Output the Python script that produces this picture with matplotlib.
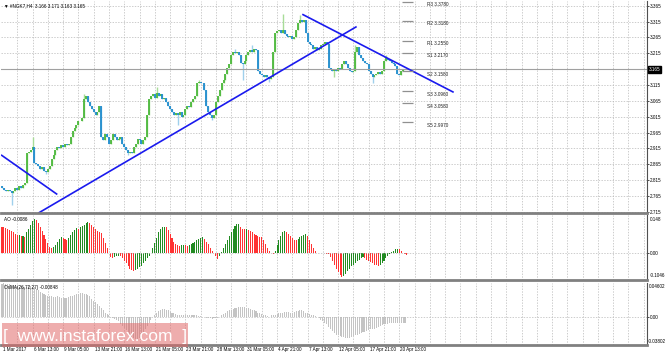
import numpy as np
import matplotlib.pyplot as plt
import matplotlib.transforms as mtransforms
from matplotlib.patches import Rectangle

plt.rcParams['font.family'] = ['Liberation Sans', 'DejaVu Sans']

#### data (H4 bars, index 0 = 1 Mar 2017) ####

closes = [2.790, 2.785, 2.780, 2.785, 2.780, 2.775, 2.780, 2.790, 2.785, 2.795, 2.790, 2.800, 2.805,
          2.900, 2.905, 2.910, 2.920,
          2.870, 2.865, 2.860, 2.850, 2.855, 2.845, 2.840, 2.850,
          2.860, 2.880, 2.895, 2.910, 2.920, 2.915, 2.925, 2.920, 2.930, 2.925,
          2.930, 2.950, 2.970, 2.980, 2.990, 3.000, 3.000, 3.010,
          3.070, 3.080, 3.060,
          3.050, 3.040, 3.030, 3.020, 3.030, 3.050,
          2.950,
          2.940, 2.960, 2.950, 2.930, 2.940, 2.960, 2.950, 2.940, 2.945, 2.950, 2.930,
          2.920, 2.910, 2.900, 2.905, 2.900,
          2.920, 2.930, 2.945, 2.940, 2.930, 2.940, 2.950,
          3.020, 3.070,
          3.080, 3.085, 3.075, 3.090, 3.080, 3.085, 3.070, 3.075, 3.060,
          3.050, 3.040, 3.030, 3.020, 3.025, 3.020, 3.030, 3.015, 3.020,
          3.040, 3.050, 3.045, 3.060, 3.070, 3.080,
          3.120, 3.125, 3.120, 3.120, 3.100,
          3.050, 3.030, 3.020, 3.010, 3.020,
          3.060, 3.080, 3.100, 3.120, 3.130, 3.150, 3.170, 3.180,
          3.210, 3.220, 3.215, 3.220, 3.210,
          3.185, 3.180, 3.190,
          3.210, 3.220, 3.225, 3.220, 3.230, 3.225,
          3.160, 3.150, 3.145,
          3.140, 3.145, 3.140, 3.135, 3.140,
          3.220, 3.280,
          3.285, 3.290, 3.280, 3.290, 3.275,
          3.270, 3.265, 3.270, 3.260, 3.265,
          3.290, 3.310, 3.320, 3.315, 3.320,
          3.280, 3.250, 3.245,
          3.240, 3.230, 3.235, 3.225, 3.230, 3.240, 3.245, 3.250, 3.245,
          3.170, 3.165,
          3.160, 3.165, 3.160, 3.170, 3.165,
          3.180, 3.190, 3.180, 3.170, 3.160,
          3.155, 3.160,
          3.220, 3.235,
          3.210, 3.200, 3.190, 3.185, 3.180,
          3.160, 3.150, 3.140, 3.145,
          3.150, 3.155, 3.150, 3.160,
          3.190, 3.200, 3.195,
          3.190, 3.185, 3.180, 3.175,
          3.150, 3.145,
          3.160, 3.165]

# notable wick extremes (bar index: price)
wick_high = {16: 2.950, 43: 3.085, 81: 3.110, 103: 3.130, 122: 3.230, 131: 3.240,
             147: 3.340, 156: 3.337, 185: 3.240, 201: 3.210}
wick_low = {5: 2.735, 23: 2.835, 66: 2.895, 92: 2.990, 110: 3.005, 126: 3.130,
            140: 3.125, 174: 3.140, 194: 3.120}

ao = [0.103, 0.100, 0.098, 0.095, 0.090, 0.085, 0.080, 0.075, 0.070, 0.072, 0.065, 0.068, 0.062,
      0.080, 0.095, 0.110, 0.125, 0.134,
      0.128, 0.115, 0.100, 0.085, 0.070, 0.055, 0.040, 0.025,
      0.020, 0.022, 0.030,
      0.045, 0.055, 0.064, 0.060, 0.055, 0.052, 0.060,
      0.070, 0.080, 0.088, 0.096, 0.095, 0.100,
      0.105, 0.110, 0.115, 0.120, 0.118,
      0.110, 0.100, 0.095, 0.085, 0.080, 0.077,
      0.060, 0.040, 0.020,
      0.000, -0.015, -0.020,
      -0.015, -0.012, -0.010, -0.012,
      -0.020, -0.030, -0.040, -0.050, -0.060, -0.065, -0.070,
      -0.065, -0.060, -0.055, -0.050, -0.040, -0.030, -0.020, -0.010, 0.000,
      0.020, 0.040, 0.060, 0.080, 0.095, 0.100, 0.103,
      0.100, 0.090, 0.075, 0.060, 0.045, 0.035,
      0.030, 0.028, 0.030, 0.032, 0.030, 0.028, 0.030,
      0.035, 0.040, 0.045, 0.050, 0.055, 0.060, 0.061, 0.055,
      0.045, 0.035, 0.020, 0.010, 0.000,
      -0.010, -0.022, -0.010,
      0.005, 0.020, 0.035, 0.050, 0.065, 0.080, 0.095, 0.105, 0.112, 0.114,
      0.100, 0.095, 0.092, 0.093, 0.090,
      0.085, 0.080, 0.075, 0.070, 0.066, 0.064, 0.062,
      0.050, 0.035, 0.020, 0.010, 0.000,
      -0.005,
      0.010, 0.030, 0.050, 0.065, 0.080, 0.087,
      0.082, 0.075, 0.065, 0.058, 0.052, 0.050,
      0.055, 0.062, 0.068, 0.072, 0.074,
      0.065, 0.050, 0.035, 0.020, 0.010, 0.002,
      0.001, 0.002, 0.001, 0.000, -0.002, -0.003,
      -0.015, -0.030, -0.045, -0.060, -0.075, -0.085, -0.092,
      -0.088, -0.080, -0.070, -0.060, -0.050, -0.045, -0.040, -0.030, -0.025, -0.018, -0.015,
      -0.020, -0.025, -0.030, -0.035, -0.040, -0.045, -0.048, -0.050, -0.048,
      -0.040, -0.030, -0.020, -0.010, -0.002, 0.005,
      0.010, 0.015, 0.017, 0.015,
      0.008, 0.002, -0.005, -0.0086]

osma = [0.0450, 0.0455, 0.0450, 0.0440, 0.0440, 0.0430, 0.0430, 0.0420,
        0.0420, 0.0410, 0.0420, 0.0410, 0.0400, 0.0410, 0.0420, 0.0420, 0.0410, 0.0400,
        0.0380, 0.0360, 0.0340, 0.0320, 0.0310, 0.0300, 0.0290, 0.0280,
        0.0280, 0.0270, 0.0270, 0.0280, 0.0270, 0.0260, 0.0260, 0.0260,
        0.0260, 0.0270, 0.0280, 0.0290, 0.0300,
        0.0310, 0.0310, 0.0320, 0.0320, 0.0310, 0.0310, 0.0300, 0.0280,
        0.0250, 0.0220, 0.0200, 0.0180, 0.0150,
        0.0120, 0.0090, 0.0060, 0.0040, 0.0020,
        0.0000, -0.0020, -0.0030, -0.0040, -0.0060,
        -0.0090, -0.0120, -0.0150, -0.0180, -0.0210, -0.0240, -0.0270, -0.0290, -0.0300, -0.0300, -0.0280,
        -0.0240, -0.0200, -0.0160, -0.0120, -0.0080, -0.0040, 0.0000,
        0.0030, 0.0060, 0.0080, 0.0100, 0.0110, 0.0110, 0.0100, 0.0090,
        0.0070, 0.0060, 0.0050, 0.0040, 0.0030, 0.0030, 0.0030, 0.0020,
        0.0020, 0.0020, 0.0030, 0.0030, 0.0020, 0.0020, 0.0020, 0.0010, 0.0010, 0.0000, 0.0000,
        -0.0010, -0.0020, -0.0020, -0.0030, -0.0020, -0.0020, -0.0010, 0.0000, 0.0020, 0.0040, 0.0060,
        0.0080, 0.0090, 0.0100, 0.0110, 0.0120, 0.0120, 0.0130, 0.0130,
        0.0130, 0.0130, 0.0120, 0.0120, 0.0110, 0.0100, 0.0090, 0.0080,
        0.0060, 0.0050, 0.0040, 0.0030, 0.0020, 0.0010, 0.0000,
        0.0020, 0.0030, 0.0030, 0.0040, 0.0050,
        0.0060, 0.0060, 0.0070, 0.0070, 0.0070, 0.0060, 0.0060, 0.0070, 0.0080, 0.0080, 0.0090, 0.0090, 0.0080,
        0.0060, 0.0050, 0.0040, 0.0030, 0.0020, 0.0010, 0.0000, -0.0020,
        -0.0040, -0.0060, -0.0080, -0.0100, -0.0130,
        -0.0160, -0.0190, -0.0220, -0.0240, -0.0250, -0.0260, -0.0270, -0.0270,
        -0.0280, -0.0280, -0.0280, -0.0270,
        -0.0260, -0.0250, -0.0240, -0.0230, -0.0220, -0.0210, -0.0200, -0.0190, -0.0180,
        -0.0170, -0.0160, -0.0160, -0.0150, -0.0140, -0.0120, -0.0110, -0.0100,
        -0.0090, -0.0090, -0.0080, -0.0080, -0.0080, -0.0080, -0.0080, -0.0080, -0.0085, -0.0085, -0.00848]

date_labels = ['1 Mar 2017', '6 Mar 13:00', '9 Mar 05:00', '13 Mar 21:00', '16 Mar 13:00',
               '21 Mar 05:00', '23 Mar 21:00', '28 Mar 13:00', '31 Mar 05:00', '4 Apr 21:00',
               '7 Apr 13:00', '12 Apr 05:00', '17 Apr 21:00', '20 Apr 13:00']
bars_per_label = 16

pivot_names = ['R3', 'R2', 'R1', 'S1', 'S2', 'S3', 'S4', 'S5']
pivot_levels = [3.3780, 3.3180, 3.2550, 3.2170, 3.1580, 3.0960, 3.0580, 2.9970]

# trend lines (bar index, price)
trend_lines = [([-0.15, 28.6], [2.893, 2.771]),
               ([19.4, 185.3], [2.712, 3.298]),
               ([157.6, 236.1], [3.337, 3.093])]

price_ticks = np.arange(2.715, 3.366, 0.05)
last_price = 3.165
title = '\u25bc #NGK7,H4  3.166 3.171 3.163 3.165'

#### figure layout ####

W, H = 665, 356
fig = plt.figure(figsize=(W/100, H/100), dpi=100)
fs = 3.3
xlim = (-0.52, 337.7)

def px_axes(top, bottom):
    return fig.add_axes([1/W, 1 - bottom/H, 646/W, (bottom - top)/H])

ax = px_axes(1, 213)
ax_ao = px_axes(215, 280)
ax_os = px_axes(283, 345)

grid_kw = dict(color='#b8b8b8', lw=0.5, ls=(0, (2, 2)))
for a in (ax, ax_ao, ax_os):
    a.set_xlim(*xlim)
    a.set_xticks(np.arange(8, 337, 8))
    a.set_xticklabels([])
    a.tick_params(axis='x', length=0)
    a.grid(axis='x', **grid_kw)
    a.yaxis.tick_right()
    a.tick_params(axis='y', labelsize=fs, length=1.5, width=0.5, pad=0.8, colors='black')
    a.spines['left'].set_visible(False)
    a.spines['top'].set_visible(False)
    a.spines['right'].set_color('#505050')
    a.spines['right'].set_linewidth(0.8)
    a.spines['bottom'].set_color('#808080')
    a.spines['bottom'].set_linewidth(2.0)
    a.set_axisbelow(True)

#### main price panel ####

ax.set_ylim(2.711, 3.380)
ax.set_yticks(price_ticks)
ax.set_yticklabels(['%.3f' % t for t in price_ticks])
ax.grid(axis='y', **grid_kw)

n = len(closes)
idx = np.arange(n)
opens = np.array([closes[0] + 0.005] + closes[:-1])
cl = np.array(closes)
highs = np.maximum(opens, cl)
lows = np.minimum(opens, cl)
for k, v in wick_high.items():
    highs[k] = max(highs[k], v)
for k, v in wick_low.items():
    lows[k] = min(lows[k], v)
up = cl >= opens

ax.vlines(idx[up], lows[up], highs[up], color='#a8dc98', lw=1.0)
ax.vlines(idx[~up], lows[~up], highs[~up], color='#9fd0ec', lw=1.0)
ax.vlines(idx[up], opens[up], cl[up], color='#4cb83c', lw=1.3)
ax.vlines(idx[~up], opens[~up], cl[~up], color='#1f8ccc', lw=1.3)

ax.axhline(last_price, color='#a0a0a0', lw=0.8)

for xs, ys in trend_lines:
    ax.plot(xs, ys, color='#1a1aee', lw=1.2)

ax.hlines(pivot_levels, 209.3, 215.0, color='#909090', lw=0.9)
for nm, lv in zip(pivot_names, pivot_levels):
    ax.text(222.5, lv - 0.002, '%s %.4f' % (nm, lv), fontsize=fs, va='top', ha='left', color='#202020')

ytr = mtransforms.blended_transform_factory(ax.transAxes, ax.transData)
ax.text(1.003, last_price, '%.3f' % last_price, transform=ytr, fontsize=fs, color='white',
        va='center', ha='left', bbox=dict(boxstyle='square,pad=0.2', fc='black', ec='black'))
ax.text(0.004, 0.99, title, transform=ax.transAxes, fontsize=fs, va='top', ha='left')

#### AO panel ####

ao_v = np.array(ao)
ao_col = ['#228b22' if (i > 0 and ao_v[i] >= ao_v[i-1]) else '#ff3333' for i in range(len(ao_v))]
ax_ao.bar(np.arange(len(ao_v)), ao_v, width=0.55, color=ao_col, lw=0)
ax_ao.set_ylim(-0.1046, 0.148)
ax_ao.set_yticks([0.0])
ax_ao.set_yticklabels(['0.00'])
ax_ao.axhline(0, **grid_kw)
ax_ao.text(0.004, 0.97, 'AO -0.0086', transform=ax_ao.transAxes, fontsize=fs, va='top', ha='left')
ax_ao.text(1.004, 0.97, '0.148', transform=ax_ao.transAxes, fontsize=fs, va='top', ha='left')
ax_ao.text(1.004, 0.03, '-0.1046', transform=ax_ao.transAxes, fontsize=fs, va='bottom', ha='left')

#### OsMA panel ####

ax_os.bar(np.arange(len(osma)), osma, width=0.55, color='#c4c4c4', lw=0)
ax_os.set_ylim(-0.03802, 0.04602)
ax_os.set_yticks([0.0])
ax_os.set_yticklabels(['0.00'])
ax_os.axhline(0, **grid_kw)
ax_os.text(0.004, 0.97, 'OsMA(26,72,27) -0.00848', transform=ax_os.transAxes, fontsize=fs,
           va='top', ha='left')
ax_os.text(1.003, 0.99, '0.04602', transform=ax_os.transAxes, fontsize=fs, va='top', ha='left')
ax_os.text(1.002, 0.02, '-0.03802', transform=ax_os.transAxes, fontsize=fs, va='bottom', ha='left')

xtr = mtransforms.blended_transform_factory(ax_os.transData, ax_os.transAxes)
for k, lbl in enumerate(date_labels):
    ax_os.text(k*bars_per_label + 0.5, -0.04, lbl, transform=xtr, fontsize=fs, va='top', ha='left')

#### watermark ####

fig.patches.append(Rectangle((2/W, 1 - 347/H), 186/W, 24/H, transform=fig.transFigure,
                             fc='#e06a6a', alpha=0.55, ec='none', zorder=5))
fig.text(95/W, 1 - 336/H, '[  www.instaforex.com  ]', color='white', fontsize=12.5,
         ha='center', va='center', zorder=6)

fig.savefig('out.png', dpi=100)
